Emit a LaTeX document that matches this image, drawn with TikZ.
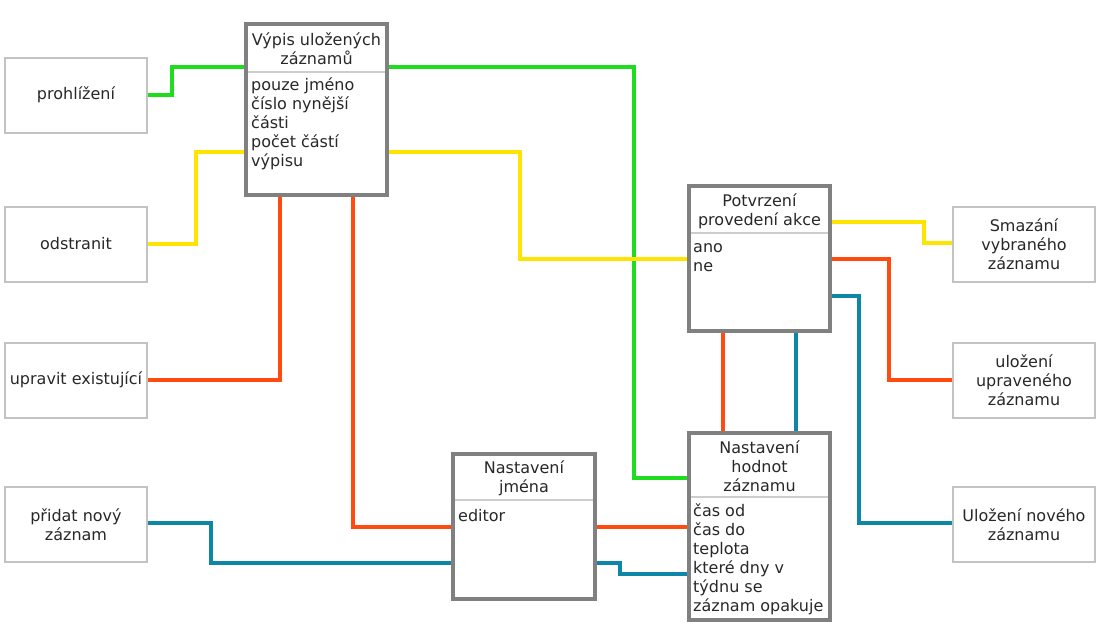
\documentclass[tikz,border=0pt]{standalone}
\usepackage{fontspec}
\setmainfont{DejaVu Sans}
\usetikzlibrary{backgrounds}
\definecolor{cgreen}{RGB}{30,220,30}
\definecolor{cyellow}{RGB}{255,228,0}
\definecolor{corange}{RGB}{255,74,16}
\definecolor{cblue}{RGB}{14,134,168}
\definecolor{mainborder}{RGB}{128,128,128}
\definecolor{lightborder}{RGB}{195,195,195}
\definecolor{divcol}{RGB}{205,205,205}
\definecolor{txt}{RGB}{40,40,40}
\tikzset{
  every node/.style={font=\fontsize{16}{19}\selectfont, text=txt},
  mainbox/.style={draw=mainborder, line width=4pt, fill=white, outer sep=0pt, inner sep=0pt},
  lightbox/.style={draw=lightborder, line width=2pt, fill=white, outer sep=0pt, inner sep=0pt,
    minimum width=142pt, minimum height=75pt, align=center},
  ttl/.style={inner sep=0pt, align=center},
  body/.style={inner sep=0pt, align=left, anchor=west},
  divider/.style={draw=divcol, line width=1.5pt, shorten <=2pt, shorten >=2pt},
  conn/.style={line width=4pt},
  gline/.style={conn, draw=cgreen},
  yline/.style={conn, draw=cyellow},
  oline/.style={conn, draw=corange},
  bline/.style={conn, draw=cblue},
}
\begin{document}
\begin{tikzpicture}[x=1pt, y=-1pt]
\useasboundingbox (0,0) rectangle (1104,643);

% left boxes
\node[lightbox] (prohl) at (76,95) {prohlížení};
\node[lightbox] (odstr) at (76,244) {odstranit};
\node[lightbox] (uprav) at (76,380) {upravit existující};
\node[lightbox] (pridat) at (76,524.5) {přidat nový\\záznam};
% right boxes
\node[lightbox] (smaz) at (1024,244) {Smazání\\vybraného\\záznamu};
\node[lightbox] (ulupr) at (1024,380) {uložení\\upraveného\\záznamu};
\node[lightbox] (ulnov) at (1024,524.5) {Uložení nového\\záznamu};

% main boxes
\node[mainbox, minimum width=141pt, minimum height=171pt] (vypis) at (316.5,109.5) {};
\node[mainbox, minimum width=141pt, minimum height=145pt] (potv) at (759.5,258.5) {};
\node[mainbox, minimum width=141pt, minimum height=187pt] (hodnot) at (759.5,526.5) {};
\node[mainbox, minimum width=142pt, minimum height=145pt] (jmena) at (524,526.5) {};

\draw[divider] (vypis.west |- 0,72) -- (vypis.east |- 0,72);
\draw[divider] (potv.west |- 0,233) -- (potv.east |- 0,233);
\draw[divider] (hodnot.west |- 0,497) -- (hodnot.east |- 0,497);
\draw[divider] (jmena.west |- 0,500) -- (jmena.east |- 0,500);

\node[ttl] (vypisT) at (316.5,49) {Výpis uložených\\záznamů};
\node[body] (vypisB) at (251,124) {pouze jméno\\číslo nynější\\části\\počet částí\\výpisu};
\node[ttl] (potvT) at (759.5,211.5) {Potvrzení\\provedení akce};
\node[body] (potvB) at (693,257.5) {ano\\ne};
\node[ttl] (hodnotT) at (759.5,466) {Nastavení\\hodnot\\záznamu};
\node[body] (hodnotB) at (693,559) {čas od\\čas do\\teplota\\které dny v\\týdnu se\\záznam opakuje};
\node[ttl] (jmenaT) at (524,478.5) {Nastavení\\jména};
\node[body] (jmenaB) at (458,516) {editor};

\begin{pgfonlayer}{background}
% green
\draw[gline] (prohl.east) -- (172,95) |- (vypis.west |- 0,67);
\draw[gline] (vypis.east |- 0,67) -- (634,67) |- (hodnot.west |- 0,478);
% yellow
\draw[yline] (odstr.east) -- (196,244) |- (vypis.west |- 0,152);
\draw[yline] (vypis.east |- 0,152) -- (520,152) |- (potv.west |- 0,259);
\draw[yline] (potv.east |- 0,222) -- (924,222) |- (smaz.west |- 0,243);
% orange
\draw[oline] (uprav.east) -| (vypis.south -| 280,0);
\draw[oline] (vypis.south -| 353,0) |- (jmena.west |- 0,527);
\draw[oline] (jmena.east |- 0,527) -- (hodnot.west |- 0,527);
\draw[oline] (potv.south -| 723,0) -- (hodnot.north -| 723,0);
\draw[oline] (potv.east |- 0,259) -- (889,259) |- (ulupr.west);
% blue
\draw[bline] (pridat.east |- 0,523) -- (211,523) |- (jmena.west |- 0,563);
\draw[bline] (jmena.east |- 0,563) -- (620,563) |- (hodnot.west |- 0,574);
\draw[bline] (potv.south -| 796,0) -- (hodnot.north -| 796,0);
\draw[bline] (potv.east |- 0,296) -- (859,296) |- (ulnov.west |- 0,523);
\end{pgfonlayer}
\end{tikzpicture}
\end{document}
